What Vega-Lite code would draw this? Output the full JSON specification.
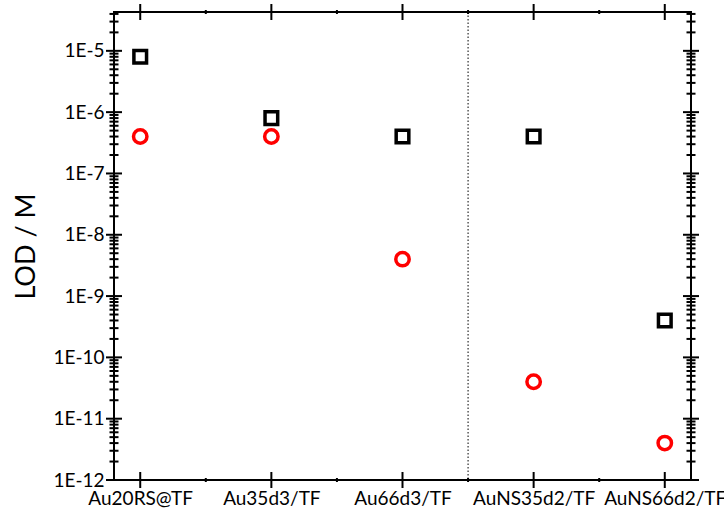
{
  "$schema": "https://vega.github.io/schema/vega-lite/v6.json",
  "width": 577,
  "height": 468,
  "autosize": {"type": "none"},
  "padding": {"left": 114, "top": 12, "right": 33, "bottom": 28},
  "background": "white",
  "config": {
    "view": {"stroke": "black", "strokeWidth": 2},
    "font": "Lato",
    "axis": {"labelFont": "Lato", "titleFont": "Lato", "grid": false, "domain": false, "ticks": false, "labelColor": "black", "titleColor": "black", "labelOverlap": false, "labelFlush": false}
  },
  "datasets": {
    "lod": [
      {"sample": "Au20RS@TF", "pos": 1, "series": "square", "lod": 8e-6},
      {"sample": "Au35d3/TF", "pos": 2, "series": "square", "lod": 8e-7},
      {"sample": "Au66d3/TF", "pos": 3, "series": "square", "lod": 4e-7},
      {"sample": "AuNS35d2/TF", "pos": 4, "series": "square", "lod": 4e-7},
      {"sample": "AuNS66d2/TF", "pos": 5, "series": "square", "lod": 4e-10},
      {"sample": "Au20RS@TF", "pos": 1, "series": "circle", "lod": 4e-7},
      {"sample": "Au35d3/TF", "pos": 2, "series": "circle", "lod": 4e-7},
      {"sample": "Au66d3/TF", "pos": 3, "series": "circle", "lod": 4e-9},
      {"sample": "AuNS35d2/TF", "pos": 4, "series": "circle", "lod": 4e-11},
      {"sample": "AuNS66d2/TF", "pos": 5, "series": "circle", "lod": 4e-12}
    ],
    "divider": [{"pos": 3.5}],
    "xticks": [
      {"value": 1, "kind": "major"}, {"value": 2, "kind": "major"}, {"value": 3, "kind": "major"},
      {"value": 4, "kind": "major"}, {"value": 5, "kind": "major"},
      {"value": 1.5, "kind": "minor"}, {"value": 2.5, "kind": "minor"},
      {"value": 3.5, "kind": "minor"}, {"value": 4.5, "kind": "minor"}
    ],
    "yticks": [
      {"value": 1e-12, "kind": "major"}, {"value": 2e-12, "kind": "minor"}, {"value": 3e-12, "kind": "minor"}, {"value": 4e-12, "kind": "minor"}, {"value": 5e-12, "kind": "minor"}, {"value": 6e-12, "kind": "minor"}, {"value": 7e-12, "kind": "minor"}, {"value": 8e-12, "kind": "minor"}, {"value": 9e-12, "kind": "minor"},
      {"value": 1e-11, "kind": "major"}, {"value": 2e-11, "kind": "minor"}, {"value": 3e-11, "kind": "minor"}, {"value": 4e-11, "kind": "minor"}, {"value": 5e-11, "kind": "minor"}, {"value": 6e-11, "kind": "minor"}, {"value": 7e-11, "kind": "minor"}, {"value": 8e-11, "kind": "minor"}, {"value": 9e-11, "kind": "minor"},
      {"value": 1e-10, "kind": "major"}, {"value": 2e-10, "kind": "minor"}, {"value": 3e-10, "kind": "minor"}, {"value": 4e-10, "kind": "minor"}, {"value": 5e-10, "kind": "minor"}, {"value": 6e-10, "kind": "minor"}, {"value": 7e-10, "kind": "minor"}, {"value": 8e-10, "kind": "minor"}, {"value": 9e-10, "kind": "minor"},
      {"value": 1e-9, "kind": "major"}, {"value": 2e-9, "kind": "minor"}, {"value": 3e-9, "kind": "minor"}, {"value": 4e-9, "kind": "minor"}, {"value": 5e-9, "kind": "minor"}, {"value": 6e-9, "kind": "minor"}, {"value": 7e-9, "kind": "minor"}, {"value": 8e-9, "kind": "minor"}, {"value": 9e-9, "kind": "minor"},
      {"value": 1e-8, "kind": "major"}, {"value": 2e-8, "kind": "minor"}, {"value": 3e-8, "kind": "minor"}, {"value": 4e-8, "kind": "minor"}, {"value": 5e-8, "kind": "minor"}, {"value": 6e-8, "kind": "minor"}, {"value": 7e-8, "kind": "minor"}, {"value": 8e-8, "kind": "minor"}, {"value": 9e-8, "kind": "minor"},
      {"value": 1e-7, "kind": "major"}, {"value": 2e-7, "kind": "minor"}, {"value": 3e-7, "kind": "minor"}, {"value": 4e-7, "kind": "minor"}, {"value": 5e-7, "kind": "minor"}, {"value": 6e-7, "kind": "minor"}, {"value": 7e-7, "kind": "minor"}, {"value": 8e-7, "kind": "minor"}, {"value": 9e-7, "kind": "minor"},
      {"value": 1e-6, "kind": "major"}, {"value": 2e-6, "kind": "minor"}, {"value": 3e-6, "kind": "minor"}, {"value": 4e-6, "kind": "minor"}, {"value": 5e-6, "kind": "minor"}, {"value": 6e-6, "kind": "minor"}, {"value": 7e-6, "kind": "minor"}, {"value": 8e-6, "kind": "minor"}, {"value": 9e-6, "kind": "minor"},
      {"value": 1e-5, "kind": "major"}, {"value": 2e-5, "kind": "minor"}, {"value": 3e-5, "kind": "minor"}, {"value": 4e-5, "kind": "minor"}
    ]
  },
  "layer": [
    {
      "data": {"name": "lod"},
      "transform": [{"filter": "datum.series === 'square'"}],
      "mark": {"type": "point", "shape": "square", "filled": false, "stroke": "black", "strokeWidth": 3.5, "size": 160, "opacity": 1},
      "encoding": {
        "x": {
          "field": "pos", "type": "quantitative",
          "scale": {"domain": [0.8, 5.2], "nice": false, "zero": false},
          "axis": {
            "orient": "bottom", "title": null,
            "values": [1, 2, 3, 4, 5],
            "labelExpr": "['Au20RS@TF','Au35d3/TF','Au66d3/TF','AuNS35d2/TF','AuNS66d2/TF'][datum.value - 1]",
            "labelFontSize": 19, "labelPadding": 9
          }
        },
        "y": {
          "field": "lod", "type": "quantitative",
          "scale": {"type": "log", "domain": [1e-12, 4.3e-5], "nice": false},
          "axis": {
            "orient": "left", "title": "LOD / M", "titleFontSize": 27, "titleFontWeight": "normal", "titlePadding": 12,
            "values": [1e-12, 1e-11, 1e-10, 1e-9, 1e-8, 1e-7, 1e-6, 1e-5],
            "labelExpr": "'1E' + round(log(datum.value)/LN10)",
            "labelFontSize": 19, "labelPadding": 10
          }
        }
      }
    },
    {
      "data": {"name": "lod"},
      "transform": [{"filter": "datum.series === 'circle'"}],
      "mark": {"type": "point", "shape": "circle", "filled": false, "stroke": "#ff0000", "strokeWidth": 3.5, "size": 180, "opacity": 1},
      "encoding": {
        "x": {"field": "pos", "type": "quantitative"},
        "y": {"field": "lod", "type": "quantitative"}
      }
    },
    {
      "data": {"name": "yticks"},
      "mark": {"type": "tick", "orient": "horizontal", "color": "black", "thickness": 2, "opacity": 1},
      "encoding": {
        "x": {"datum": 0.8, "type": "quantitative"},
        "y": {"field": "value", "type": "quantitative"},
        "size": {"condition": {"test": "datum.kind === 'major'", "value": 16}, "value": 9}
      }
    },
    {
      "data": {"name": "yticks"},
      "mark": {"type": "tick", "orient": "horizontal", "color": "black", "thickness": 2, "opacity": 1},
      "encoding": {
        "x": {"datum": 5.2, "type": "quantitative"},
        "y": {"field": "value", "type": "quantitative"},
        "size": {"condition": {"test": "datum.kind === 'major'", "value": 16}, "value": 9}
      }
    },
    {
      "data": {"name": "xticks"},
      "mark": {"type": "tick", "orient": "vertical", "color": "black", "thickness": 2, "opacity": 1},
      "encoding": {
        "x": {"field": "value", "type": "quantitative"},
        "y": {"datum": 1e-12, "type": "quantitative"},
        "size": {"condition": {"test": "datum.kind === 'major'", "value": 16}, "value": 4}
      }
    },
    {
      "data": {"name": "xticks"},
      "mark": {"type": "tick", "orient": "vertical", "color": "black", "thickness": 2, "opacity": 1},
      "encoding": {
        "x": {"field": "value", "type": "quantitative"},
        "y": {"datum": 4.3e-5, "type": "quantitative"},
        "size": {"condition": {"test": "datum.kind === 'major'", "value": 16}, "value": 4}
      }
    },
    {
      "data": {"name": "divider"},
      "mark": {"type": "rule", "stroke": "black", "strokeWidth": 1, "strokeDash": [1.5, 2]},
      "encoding": {
        "x": {"field": "pos", "type": "quantitative"}
      }
    }
  ]
}
